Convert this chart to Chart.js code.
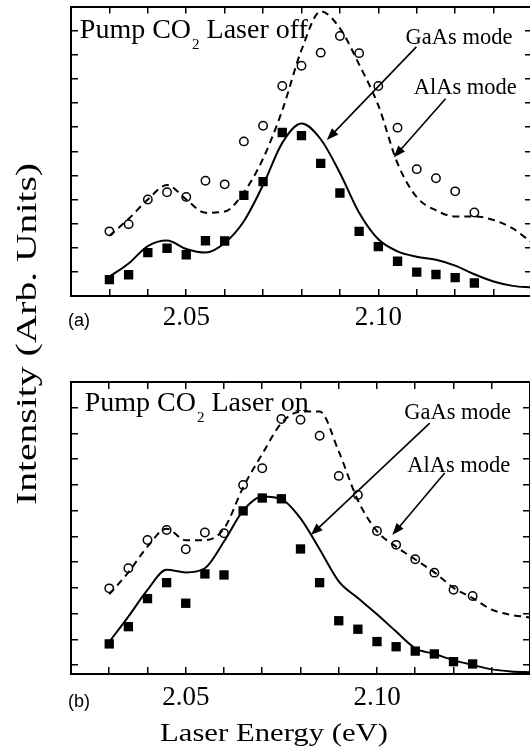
<!DOCTYPE html>
<html>
<head>
<meta charset="utf-8">
<script src="https://cdn.jsdelivr.net/npm/chart.js@4.4.1/dist/chart.umd.min.js"></script>
<style>
    html, body { margin: 0; padding: 0; background: #fff; overflow: hidden; }
    #figure { position: relative; width: 530px; height: 756px; overflow: hidden; }
    #figure canvas { position: absolute; left: 0; top: 0; }
</style>
</head>
<body>
<div id="figure">
    <canvas id="panel-b" width="545" height="756"></canvas>
    <canvas id="panel-a" width="545" height="340"></canvas>
</div>
<script>
'use strict';

// laser energies of the measured points (eV)
var energy = [2.030, 2.035, 2.040, 2.045, 2.050, 2.055, 2.060, 2.065, 2.070, 2.075,
              2.080, 2.085, 2.090, 2.095, 2.100, 2.105, 2.110, 2.115, 2.120, 2.125];
// energies used for the fitted curves
var fitEnergy = [2.030, 2.035, 2.040, 2.045, 2.050, 2.055, 2.060, 2.065, 2.070, 2.075, 2.080, 2.085,
                 2.090, 2.095, 2.100, 2.105, 2.110, 2.115, 2.120, 2.125, 2.130, 2.135, 2.140];

// (a) pump laser off
var offSquares = [0.68, 0.88, 1.80, 1.98, 1.71, 2.29, 2.28, 4.17, 4.74, 6.78,
                  6.65, 5.50, 4.27, 2.68, 2.05, 1.44, 0.99, 0.89, 0.76, 0.54];
var offCircles = [2.68, 2.98, 4.00, 4.30, 4.11, 4.78, 4.63, 6.41, 7.06, 8.71,
                  9.55, 10.09, 10.78, 10.07, 8.71, 6.98, 5.26, 4.88, 4.34, 3.46];
var offSolidFit = [0.80, 1.35, 2.07, 2.30, 1.95, 1.80, 2.20, 3.10, 4.60, 6.35, 7.15, 6.50,
                   5.10, 3.45, 2.35, 1.85, 1.63, 1.50, 1.26, 0.90, 0.60, 0.42, 0.35];
var offDashedFit = [2.50, 3.20, 4.00, 4.60, 4.00, 3.45, 3.50, 4.30, 5.70, 7.70, 10.20, 11.80,
                    11.10, 9.60, 7.90, 5.50, 4.10, 3.55, 3.30, 3.30, 3.15, 2.80, 2.20];

// (b) pump laser on
var onSquares = [0.82, 1.49, 2.58, 3.20, 2.40, 3.54, 3.50, 5.99, 6.49, 6.46,
                 4.51, 3.20, 1.72, 1.39, 0.91, 0.71, 0.54, 0.43, 0.13, 0.04];
var onCircles = [2.98, 3.76, 4.86, 5.25, 4.50, 5.15, 5.12, 7.00, 7.65, 9.56,
                 9.53, 8.91, 7.35, 6.61, 5.21, 4.67, 4.11, 3.59, 2.92, 2.68];
var onSolidFit = [0.90, 1.88, 2.92, 3.70, 3.60, 3.76, 4.80, 6.00, 6.55, 6.45, 5.70, 4.50,
                  3.25, 2.60, 1.97, 1.30, 0.65, 0.43, 0.19, 0.00, -0.17, -0.25, -0.28];
var onDashedFit = [2.75, 3.60, 4.60, 5.30, 4.85, 4.85, 5.30, 6.90, 8.20, 9.40, 9.85, 9.85,
                   8.30, 6.40, 5.20, 4.60, 4.10, 3.60, 3.00, 2.60, 2.15, 1.95, 1.85];

// axes
var xTicks = [2.02, 2.03, 2.04, 2.05, 2.06, 2.07, 2.08, 2.09, 2.10, 2.11, 2.12, 2.13, 2.14];
var xLabelAt = [2.05, 2.10];
var xLabelText = ['2.05', '2.10'];
var yTicksA = [0, 1, 2, 3, 4, 5, 6, 7, 8, 9, 10, 11, 12];
var yTicksB = [0, 1, 2, 3, 4, 5, 6, 7, 8, 9, 10, 11];

var SERIF = '"Liberation Serif", "Times New Roman", serif';
var SANS  = '"Liberation Sans", Arial, sans-serif';

function points(xs, ys) {
    return xs.map(function (x, i) { return {x: x, y: ys[i]}; });
}

function stretchedText(ctx, text, x, y, size, sx, align, rotate) {
    ctx.save();
    ctx.translate(x, y);
    if (rotate) ctx.rotate(rotate);
    ctx.scale(sx, 1);
    ctx.font = size + 'px ' + SERIF;
    ctx.textAlign = align;
    ctx.textBaseline = 'alphabetic';
    ctx.fillText(text, 0, 0);
    ctx.restore();
}

function arrow(ctx, x1, y1, x2, y2) {
    var a = Math.atan2(y2 - y1, x2 - x1), len = 12, w = 4.5;
    var c = Math.cos(a), s = Math.sin(a);
    ctx.lineWidth = 1.6;
    ctx.beginPath();
    ctx.moveTo(x1, y1);
    ctx.lineTo(x2 - c * len * 0.7, y2 - s * len * 0.7);
    ctx.stroke();
    ctx.beginPath();
    ctx.moveTo(x2, y2);
    ctx.lineTo(x2 - c * len + s * w, y2 - s * len - c * w);
    ctx.lineTo(x2 - c * len - s * w, y2 - s * len + c * w);
    ctx.closePath();
    ctx.fill();
}

// notes: panel title, mode labels with arrows, panel tag, axis titles
var figureNotes = {
    id: 'figureNotes',
    afterDraw: function (chart, args, o) {
        var ctx = chart.ctx, area = chart.chartArea;
        var px = function (v) { return chart.scales.x.getPixelForValue(v); };
        var py = function (v) { return chart.scales.y.getPixelForValue(v); };
        ctx.save();
        ctx.fillStyle = '#000';
        ctx.strokeStyle = '#000';

        // title with subscript
        var tx = px(o.title.x), ty = py(o.title.y);
        ctx.textAlign = 'left';
        ctx.textBaseline = 'alphabetic';
        ctx.font = '28px ' + SERIF;
        ctx.fillText(o.title.lead, tx, ty);
        tx += ctx.measureText(o.title.lead).width + 1;
        ctx.font = '15px ' + SERIF;
        ctx.fillText(o.title.sub, tx, ty + 11);
        tx += ctx.measureText(o.title.sub).width;
        ctx.font = '28px ' + SERIF;
        ctx.fillText(o.title.tail, tx, ty);

        o.modes.forEach(function (m) {
            ctx.font = '22.5px ' + SERIF;
            ctx.fillText(m.text, px(m.x), py(m.y));
            arrow(ctx, px(m.from[0]), py(m.from[1]), px(m.to[0]), py(m.to[1]));
        });

        ctx.font = '18px ' + SANS;
        ctx.textBaseline = 'middle';
        ctx.fillText(o.tag, area.left - 3, area.bottom + o.tagGap);

        if (o.axisTitles) {
            var t = o.axisTitles;
            ctx.font = '30px ' + SERIF;
            var w = ctx.measureText(t.y).width;
            stretchedText(ctx, t.y, 36, 334, 30, 342 / w, 'center', -Math.PI / 2);
            ctx.font = '26px ' + SERIF;
            w = ctx.measureText(t.x).width;
            stretchedText(ctx, t.x, 274, 741, 26, 228 / w, 'center', 0);
        }
        ctx.restore();
    }
};

function axis(position, min, max, tickValues, fitSize, labelPad) {
    var horizontal = position === 'bottom' || position === 'top';
    return {
        type: 'linear',
        position: position,
        min: min,
        max: max,
        afterBuildTicks: function (scale) {
            scale.ticks = tickValues.map(function (v) { return {value: v}; });
        },
        afterFit: function (scale) {
            if (horizontal) scale.height = fitSize; else scale.width = fitSize;
        },
        grid: {drawOnChartArea: false, drawTicks: true, tickLength: -7, color: '#000', lineWidth: 1.5},
        border: {display: true, color: '#000', width: 2},
        ticks: {
            display: labelPad !== undefined,
            padding: labelPad || 0,
            color: '#000',
            autoSkip: false,
            maxRotation: 0,
            font: {family: SERIF, size: 27},
            callback: function (v) {
                for (var i = 0; i < xLabelAt.length; i++) {
                    if (Math.abs(v - xLabelAt[i]) < 1e-6) return xLabelText[i];
                }
                return '';
            }
        }
    };
}

function makePanel(id, data, yMin, yMax, yTicks, padding, xHeight, labelPad, notes) {
    return new Chart(document.getElementById(id), {
        type: 'scatter',
        data: {
            datasets: [{
                data: points(fitEnergy, data.solid),
                showLine: true,
                borderColor: '#000',
                borderWidth: 2,
                pointRadius: 0,
                cubicInterpolationMode: 'monotone'
            }, {
                data: points(fitEnergy, data.dashed),
                showLine: true,
                borderColor: '#000',
                borderWidth: 2,
                borderDash: [7, 5],
                pointRadius: 0,
                cubicInterpolationMode: 'monotone'
            }, {
                data: points(energy, data.squares),
                pointStyle: 'rect',
                pointRadius: 6.6,
                backgroundColor: '#000',
                borderColor: '#000',
                borderWidth: 0
            }, {
                data: points(energy, data.circles),
                pointStyle: 'circle',
                pointRadius: 4.2,
                backgroundColor: 'rgba(0,0,0,0)',
                borderColor: '#000',
                borderWidth: 1.5
            }]
        },
        options: {
            responsive: false,
            animation: false,
            layout: {padding: padding},
            scales: {
                x: axis('bottom', 2.02, 2.14, xTicks, xHeight, labelPad),
                x2: axis('top', 2.02, 2.14, xTicks, 0),
                y: axis('left', yMin, yMax, yTicks, 0),
                y2: axis('right', yMin, yMax, yTicks, 0)
            },
            plugins: {
                legend: {display: false},
                tooltip: {enabled: false},
                figureNotes: notes
            }
        },
        plugins: [figureNotes]
    });
}

makePanel('panel-a',
    {squares: offSquares, circles: offCircles, solid: offSolidFit, dashed: offDashedFit},
    0, 12, yTicksA, {left: 71, top: 1, right: 11, bottom: 0}, 44, 13,
    {
        title: {x: 2.0223, y: 10.70, lead: 'Pump CO', sub: '2', tail: ' Laser off'},
        modes: [
            {text: 'GaAs mode', x: 2.1071, y: 10.46, from: [2.1099, 10.33], to: [2.0866, 6.47]},
            {text: 'AlAs mode', x: 2.1092, y: 8.38, from: [2.1175, 8.18], to: [2.1040, 5.74]}
        ],
        tag: '(a)',
        tagGap: 25
    });

makePanel('panel-b',
    {squares: onSquares, circles: onCircles, solid: onSolidFit, dashed: onDashedFit},
    -0.35, 11, yTicksB, {left: 71, top: 382, right: 11, bottom: 0}, 82, 15,
    {
        title: {x: 2.0236, y: 9.87, lead: 'Pump CO', sub: '2', tail: ' Laser on'},
        modes: [
            {text: 'GaAs mode', x: 2.1071, y: 9.56, from: [2.1138, 9.40], to: [2.0827, 5.05]},
            {text: 'AlAs mode', x: 2.1079, y: 7.50, from: [2.1177, 7.46], to: [2.1040, 5.05]}
        ],
        tag: '(b)',
        tagGap: 28,
        axisTitles: {y: 'Intensity (Arb. Units)', x: 'Laser Energy (eV)'}
    });
</script>
</body>
</html>
